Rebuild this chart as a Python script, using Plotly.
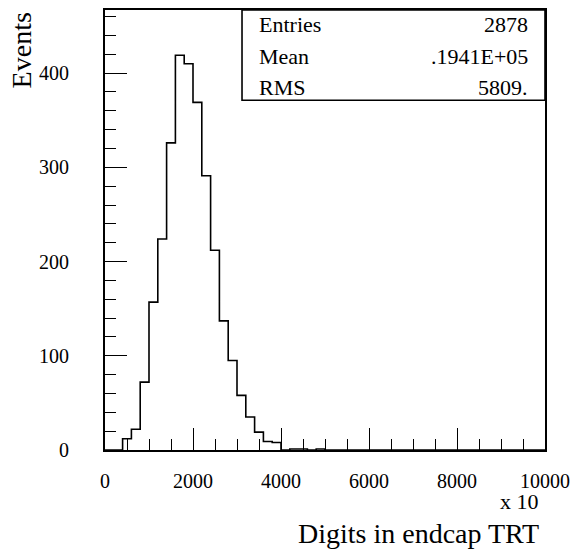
import plotly.graph_objects as go

# Histogram of digit counts in the endcap TRT (axis values are in units of 10)
bin_width = 200
bin_low_edges = [400, 600, 800, 1000, 1200, 1400, 1600, 1800, 2000, 2200,
                 2400, 2600, 2800, 3000, 3200, 3400, 3600, 3800, 4200, 4400, 4800]
bin_counts = [12, 22, 72, 157, 224, 326, 419, 410, 369, 291,
              212, 137, 95, 58, 35, 19, 9, 8, 1, 1, 1]

x_min, x_max = 0, 10000
y_max = 467

stat_labels = ["Entries", "Mean", "RMS"]
stat_values = ["2878", ".1941E+05", "5809."]

x_ticks = [0, 2000, 4000, 6000, 8000, 10000]
x_tick_text = ["0", "2000", "4000", "6000", "8000", "10000"]
y_ticks = [0, 100, 200, 300, 400]
y_tick_text = ["0", "100", "200", "300", "400"]

# full set of bins across the axis, empty bins at zero
n_bins = (x_max - x_min) // bin_width
counts = [0] * n_bins
for lo, c in zip(bin_low_edges, bin_counts):
    counts[(lo - x_min) // bin_width] = c
edges = [x_min + i * bin_width for i in range(n_bins + 1)]
step_y = counts + [counts[-1]]

FONT = "'Liberation Serif', 'Times New Roman', Times, serif"

fig = go.Figure()
fig.add_trace(go.Scatter(
    x=edges, y=step_y, mode="lines",
    line=dict(shape="hv", color="black", width=1.6),
    hoverinfo="skip", showlegend=False,
))

axis_common = dict(
    showgrid=False, zeroline=False, automargin=False,
    showline=True, linecolor="black", linewidth=2, mirror=True,
    ticks="inside", tickcolor="black", tickwidth=1.3,
    tickfont=dict(family=FONT, size=20, color="black"),
)

fig.update_xaxes(
    range=[x_min, x_max], tickvals=x_ticks, ticktext=x_tick_text, ticklen=22,
    minor=dict(dtick=500, ticks="inside", ticklen=11, tickcolor="black", tickwidth=1.3),
    ticklabelstandoff=12,
    **axis_common,
)
fig.update_yaxes(
    range=[0, y_max], tickvals=y_ticks, ticktext=y_tick_text, ticklen=22,
    minor=dict(dtick=20, ticks="inside", ticklen=11, tickcolor="black", tickwidth=1.3),
    ticklabelstandoff=30,
    **axis_common,
)

# statistics box in the upper right corner
box_x0 = 0.3114
box_y0 = 0.795
fig.add_shape(type="rect", xref="paper", yref="paper",
              x0=box_x0, x1=1, y0=box_y0, y1=1,
              line=dict(color="black", width=1.6), fillcolor="white")
row_y = [0.966, 0.895, 0.825]
for lab, val, yy in zip(stat_labels, stat_values, row_y):
    fig.add_annotation(xref="paper", yref="paper", x=box_x0 + 0.034, y=yy,
                       text=lab, showarrow=False, xanchor="left", yanchor="middle",
                       font=dict(family=FONT, size=22, color="black"))
    fig.add_annotation(xref="paper", yref="paper", x=0.966, y=yy,
                       text=val, showarrow=False, xanchor="right", yanchor="middle",
                       font=dict(family=FONT, size=22, color="black"))

# axis titles
fig.add_annotation(xref="paper", yref="paper", x=0.99, y=-0.116,
                   text="x 10", showarrow=False, xanchor="right", yanchor="middle",
                   font=dict(family=FONT, size=22, color="black"))
fig.add_annotation(xref="paper", yref="paper", x=0.99, y=-0.19,
                   text="Digits in endcap TRT", showarrow=False,
                   xanchor="right", yanchor="middle",
                   font=dict(family=FONT, size=28, color="black"))
fig.add_annotation(xref="paper", yref="paper", x=-0.19, y=1.0,
                   text="Events", showarrow=False, textangle=-90,
                   xanchor="center", yanchor="top",
                   font=dict(family=FONT, size=28, color="black"))

fig.update_layout(
    width=575, height=557,
    margin=dict(l=105, r=30, t=10, b=107, autoexpand=False),
    paper_bgcolor="white", plot_bgcolor="white",
    font=dict(family=FONT, color="black"),
)

fig.write_html("out.html")
